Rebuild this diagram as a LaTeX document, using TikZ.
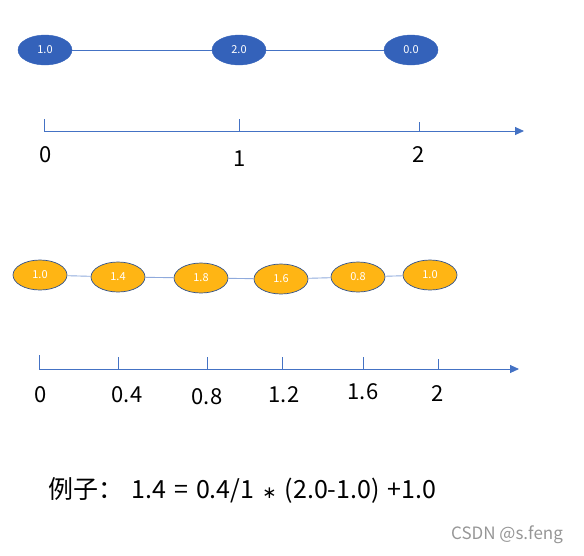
\documentclass[tikz,border=0pt]{standalone}
\usepackage{fontspec}
\setmainfont{Noto Sans CJK SC}
\newfontfamily\symfont{DejaVu Sans}
\usetikzlibrary{shapes.geometric,arrows.meta,positioning}
\definecolor{nodeblue}{RGB}{52,98,186}
\definecolor{axisblue}{RGB}{68,114,196}
\definecolor{nodegold}{RGB}{255,181,20}
\definecolor{rimblue}{RGB}{47,82,143}
\definecolor{linkblue}{RGB}{143,170,220}
\definecolor{markgray}{RGB}{150,150,150}

\begin{document}
\begin{tikzpicture}[x=1pt,y=-1pt,
		val/.style={ellipse,minimum width=54pt,minimum height=30pt,inner sep=0pt,text=white,font=\fontsize{11}{11}\selectfont},
		oldval/.style={val,fill=nodeblue,draw=nodeblue},
		newval/.style={val,fill=nodegold,draw=rimblue,line width=0.7pt},
		axisline/.style={draw=axisblue,line width=0.9pt,-{Triangle[length=9pt,width=8pt]}},
		tickline/.style={draw=axisblue,line width=0.9pt},
		num/.style={font=\fontsize{22}{22}\selectfont}]
	\useasboundingbox (0,0) rectangle (584,555);
	% original samples
	\node[oldval] (o_0) at (45,50) {1.0};
	\node[oldval] (o_1) at (239,50) {2.0};
	\node[oldval] (o_2) at (411,50) {0.0};
	\path[draw=axisblue,line width=0.9pt]
		(o_0) edge (o_1)
		(o_1) edge (o_2);
	% first axis
	\coordinate (a_start) at (44,131);
	\coordinate (a_end) at (524,131);
	\draw[axisline] (a_start) -- (a_end);
	\foreach \x/\top/\lab/\lx/\ly in {44/119/0/46/155, 239/119/1/240/159, 419/122/2/419/155} {
		\coordinate (at_\lab) at (\x,131);
		\draw[tickline] (at_\lab) -- (\x,\top);
		\node[num] (al_\lab) at (\lx,\ly) {\lab};
	}
	% resampled values
	\node[newval] (n_0) at (40,275) {1.0};
	\node[newval] (n_1) at (118,277) {1.4};
	\node[newval] (n_2) at (201,278) {1.8};
	\node[newval] (n_3) at (281,279) {1.6};
	\node[newval] (n_4) at (358,277) {0.8};
	\node[newval] (n_5) at (430,275) {1.0};
	\path[draw=linkblue,line width=0.9pt]
		(n_0) edge (n_1)
		(n_1) edge (n_2)
		(n_2) edge (n_3)
		(n_3) edge (n_4)
		(n_4) edge (n_5);
	% second axis
	\coordinate (b_start) at (39,369);
	\coordinate (b_end) at (519,369);
	\draw[axisline] (b_start) -- (b_end);
	\foreach \x/\top/\lab/\lx/\ly [count=\i] in {39/355/0/41/395, 118/357/0.4/127/395, 207/357/0.8/207/397, 282/357/1.2/284/395, 363/357/1.6/363/392, 438/359/2/438/394} {
		\coordinate (bt_\i) at (\x,369);
		\draw[tickline] (bt_\i) -- (\x,\top);
		\node[num] (bl_\i) at (\lx,\ly) {\lab};
	}
	% example formula
	\node[num,font=\fontsize{25}{25}\selectfont,anchor=west] (formula) at (45,490)
		{\spaceskip=8pt 例子：\ 1.4 = 0.4/1 {\symfont\fontsize{17}{17}\selectfont∗} (2.0-1.0) +1.0};
	\node[font=\fontsize{17}{17}\selectfont,text=markgray] (mark) at (507,535) {CSDN @s.feng};
\end{tikzpicture}
\end{document}
